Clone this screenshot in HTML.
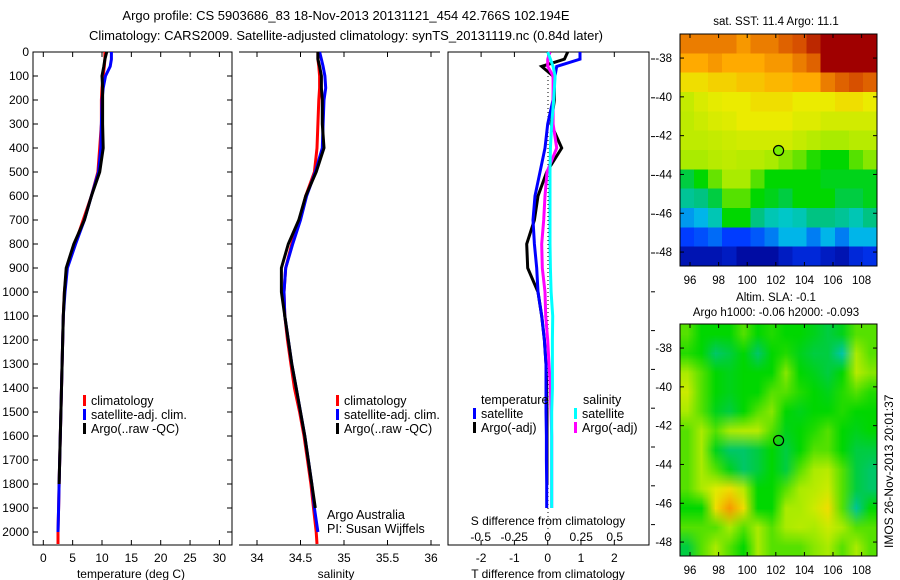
<!DOCTYPE html>
<html><head><meta charset="utf-8"><style>
body{margin:0;background:#fff;}
svg{display:block;font-family:"Liberation Sans",sans-serif;}
canvas{position:absolute;}
</style></head><body>
<div style="position:relative;width:900px;height:580px">
<canvas id="sst" width="14" height="12" style="left:680px;top:34px;width:197px;height:232px;image-rendering:pixelated"></canvas>
<canvas id="sla" width="14" height="12" style="left:680px;top:324px;width:197px;height:232px"></canvas>
<svg id="svg" width="900" height="580" style="position:absolute;left:0;top:0"></svg>
</div>
<script>
const depths=[0,30,60,100,150,200,300,400,500,600,700,800,900,1000,1100,1200,1300,1400,1500,1600,1700,1800,1900,2000,2050];
const tClim=[10.5,10.5,10.4,10.2,10.0,9.9,9.9,9.6,9.3,8.2,6.8,5.4,4.0,3.6,3.4,3.3,3.2,3.1,3.0,2.9,2.8,2.7,2.6,2.5,2.5];
const tSat=[11.6,11.6,11.4,10.6,10.2,10.0,9.9,9.8,9.4,8.2,7.0,5.5,4.1,3.7,3.4,3.3,3.2,3.1,3.0,2.9,2.8,2.7,2.6,2.5,null];
const tArgo=[10.8,10.5,10.3,10.0,10.1,10.1,10.1,10.2,9.6,8.2,7.0,5.2,3.9,3.6,3.4,3.3,3.2,3.1,3.0,2.9,2.8,2.7,null,null,null];
const sClim=[34.70,34.70,34.71,34.72,34.72,34.71,34.70,34.69,34.66,34.56,34.49,34.40,34.33,34.31,34.32,34.35,34.39,34.43,34.49,34.54,34.58,34.62,34.65,34.68,34.69];
const sSat=[34.72,34.74,34.76,34.78,34.79,34.77,34.76,34.75,34.67,34.57,34.50,34.41,34.33,34.31,34.32,34.36,34.40,34.45,34.50,34.55,34.59,34.63,34.66,34.70,null];
const sArgo=[34.70,34.70,34.72,34.74,34.74,34.75,34.75,34.77,34.68,34.56,34.48,34.36,34.28,34.28,34.32,34.36,34.40,34.45,34.50,34.55,34.59,34.63,34.67,null,null];
const dT_sat=[0.97,0.97,0.27,0.22,0.18,0.16,0.0,-0.08,-0.23,-0.38,-0.44,-0.40,-0.33,-0.29,-0.18,-0.1,-0.05,-0.05,-0.05,-0.04,-0.04,-0.03,-0.03,null,null];
const dT_argo=[0.6,0.5,-0.18,0.16,0.2,0.2,0.1,0.42,-0.03,-0.29,-0.4,-0.63,-0.6,-0.29,-0.18,-0.1,-0.05,-0.03,-0.02,-0.02,-0.02,-0.02,null,null,null];
const dS_argo=[0.017,0.0,0.0,0.04,0.04,0.04,0.04,0.067,-0.005,-0.02,-0.03,-0.045,-0.04,-0.02,-0.015,0.0,0.01,0.02,0.025,0.03,0.03,0.03,0.03,null,null];
const dS_sat=[0.0,0.02,0.04,0.055,0.05,0.045,0.03,0.02,0.017,0.017,0.017,0.017,0.02,0.025,0.037,0.035,0.035,0.035,0.03,0.03,0.03,0.03,0.03,null,null];
const tTicks=[0,5,10,15,20,25,30];
const sTicks=[34,34.5,35,35.5,36];
const dTTicks=[-2,-1,0,1,2];
const dSTicks=[-0.5,-0.25,0,0.25,0.5];
const depthTicks=[0,100,200,300,400,500,600,700,800,900,1000,1100,1200,1300,1400,1500,1600,1700,1800,1900,2000];
const latTicks=[-38,-40,-42,-44,-46,-48];
const lonTicks=[96,98,100,102,104,106,108];
const sstGrid=[
[.85,.85,.85,.85,.82,.85,.85,.88,.9,.95,1,1,1,1],
[.8,.8,.82,.8,.8,.8,.82,.82,.85,.88,1,1,1,1],
[.72,.72,.74,.74,.76,.76,.78,.78,.8,.8,.85,.88,.9,.88],
[.64,.67,.69,.7,.7,.72,.72,.72,.7,.7,.7,.72,.72,.7],
[.63,.65,.67,.68,.7,.7,.7,.7,.68,.68,.66,.66,.66,.66],
[.63,.63,.64,.65,.66,.66,.66,.66,.64,.62,.6,.6,.62,.62],
[.6,.6,.62,.63,.62,.62,.6,.58,.56,.52,.5,.5,.55,.58],
[.45,.5,.56,.6,.6,.55,.5,.5,.5,.5,.48,.48,.48,.48],
[.38,.4,.45,.55,.55,.5,.48,.45,.5,.5,.5,.45,.45,.48],
[.25,.28,.35,.5,.5,.4,.35,.33,.35,.4,.4,.38,.35,.4],
[.15,.17,.2,.15,.15,.18,.22,.28,.28,.22,.28,.22,.28,.28],
[.05,.05,.05,.07,.03,.03,.03,.07,.1,.1,.07,.05,.1,.12]];
const slaGrid=[
[.55,.5,.5,.5,.55,.5,.52,.5,.5,.48,.45,.48,.55,.55],
[.52,.5,.42,.45,.5,.42,.5,.52,.48,.45,.45,.36,.6,.55],
[.6,.55,.5,.48,.5,.5,.5,.58,.5,.48,.45,.5,.62,.58],
[.65,.55,.5,.48,.5,.5,.55,.55,.52,.5,.48,.52,.55,.52],
[.6,.55,.48,.45,.5,.55,.58,.5,.48,.5,.5,.52,.5,.5],
[.55,.6,.55,.6,.62,.62,.55,.48,.5,.52,.55,.5,.48,.5],
[.55,.6,.48,.42,.42,.45,.5,.45,.5,.55,.55,.5,.45,.45],
[.55,.6,.55,.48,.42,.45,.5,.45,.55,.6,.62,.55,.45,.42],
[.55,.6,.68,.72,.62,.5,.5,.55,.6,.62,.65,.55,.45,.42],
[.5,.5,.72,.82,.72,.5,.5,.6,.6,.65,.72,.55,.38,.5],
[.55,.55,.55,.6,.55,.6,.55,.6,.62,.6,.65,.6,.55,.55],
[.45,.55,.6,.55,.5,.6,.55,.55,.55,.58,.6,.55,.6,.55]];
const argoLon=102.194, argoLat=-42.766;

const NS='http://www.w3.org/2000/svg', svg=document.getElementById('svg');
function el(t,a,txt){const e=document.createElementNS(NS,t);for(const k in a)e.setAttribute(k,a[k]);if(txt!==undefined)e.textContent=txt;svg.appendChild(e);return e;}
const CM=[[0,[0,0,140]],[0.15,[0,60,255]],[0.3,[0,200,230]],[0.4,[0,195,130]],[0.5,[0,215,0]],[0.6,[170,235,0]],[0.7,[235,235,0]],[0.8,[255,170,0]],[0.9,[215,80,0]],[1,[160,0,0]]];
function cmap(v){v=Math.max(0,Math.min(1,v));for(let i=1;i<CM.length;i++){if(v<=CM[i][0]){const a=CM[i-1],b=CM[i],f=(v-a[0])/(b[0]-a[0]);return a[1].map((c,k)=>Math.round(c+(b[1][k]-c)*f));}}return CM[CM.length-1][1];}
function paint(id,grid){const c=document.getElementById(id).getContext('2d');grid.forEach((row,j)=>row.forEach((v,i)=>{const [r,g,b]=cmap(v);c.fillStyle=`rgb(${r},${g},${b})`;c.fillRect(i,j,1,1);}));}
paint('sst',sstGrid);paint('sla',slaGrid);

const yD=d=>52+d*0.24;
const xT=t=>43.3+t*5.87, xS=s=>257+(s-34)*87, xdT=t=>547.7+t*33.3, xdS=s=>547.7+s*134;
function txt(x,y,s,o){const a=Object.assign({x:x,y:y,'font-size':12,fill:'#000'},o||{});return el('text',a,s);}
function line(x1,y1,x2,y2,w,c){return el('line',{x1,y1,x2,y2,stroke:c||'#000','stroke-width':w||1});}
function prof(vals,xf,col,name,w){let pts=[];vals.forEach((v,i)=>{if(v!==null)pts.push(xf(v).toFixed(1)+','+yD(depths[i]).toFixed(1));});
 const p=el('polyline',{points:pts.join(' '),fill:'none',stroke:col,'stroke-width':w||3});
 
 }

el('text',{x:346,y:20,'font-size':13,'text-anchor':'middle',},'Argo profile: CS 5903686_83 18-Nov-2013 20131121_454 42.766S 102.194E');
el('text',{x:346,y:40,'font-size':13,'text-anchor':'middle',},'Climatology: CARS2009. Satellite-adjusted climatology: synTS_20131119.nc (0.84d later)');

const B=545;
el('rect',{x:33,y:52,width:199,height:B-52,fill:'none',stroke:'#000',});
line(239,52,440,52);line(239,B,440,B);
el('rect',{x:448,y:52,width:201,height:B-52,fill:'none',stroke:'#000',});
depthTicks.forEach(d=>{const y=yD(d);line(33,y,38,y);line(227,y,232,y);txt(29,y+4,String(d),{'text-anchor':'end'});});
for(let y=59;y<=545;y+=38.8)line(651,y,655,y);
tTicks.forEach(t=>{const x=xT(t);line(x,52,x,57);line(x,B,x,B-5);txt(x,562,String(t),{'text-anchor':'middle'});});
sTicks.forEach(s=>{const x=xS(s);line(x,52,x,57);line(x,B,x,B-5);txt(x,562,String(s),{'text-anchor':'middle'});});
dTTicks.forEach(t=>{const x=xdT(t);line(x,52,x,57);line(x,B,x,B-5);txt(x,562,String(t),{'text-anchor':'middle'});});
dSTicks.forEach(s=>{txt(xdS(s),541,String(s),{'text-anchor':'middle'});});
txt(131,578,'temperature (deg C)',{'text-anchor':'middle',});
txt(336,578,'salinity',{'text-anchor':'middle',});
txt(548,578,'T difference from climatology',{'text-anchor':'middle',});
txt(548,525,'S difference from climatology',{'text-anchor':'middle',});
el('line',{x1:548,y1:60,x2:548,y2:540,stroke:'#000','stroke-width':1,'stroke-dasharray':'1,3'});

prof(tClim,xT,'#f00','temp-climatology');prof(tSat,xT,'#00f','temp-satellite');prof(tArgo,xT,'#000','temp-argo');
prof(sClim,xS,'#f00','sal-climatology');prof(sSat,xS,'#00f','sal-satellite');prof(sArgo,xS,'#000','sal-argo');
prof(dT_argo,xdT,'#000','tdiff-argo');prof(dT_sat,xdT,'#00f','tdiff-satellite');prof(dS_argo,xdS,'#f0f','sdiff-argo');prof(dS_sat,xdS,'#0ff','sdiff-satellite');

function legend(x,y,items){items.forEach((it,i)=>{const yy=y+i*14;el('rect',{x:x,y:yy-10,width:3,height:11,fill:it[1]});txt(x+8,yy,it[0],{'font-size':12.5});});}
legend(83,405,[['climatology','#f00'],['satellite-adj. clim.','#00f'],['Argo(..raw -QC)','#000']]);
legend(336,405,[['climatology','#f00'],['satellite-adj. clim.','#00f'],['Argo(..raw -QC)','#000']]);
txt(481,404,'temperature',{'font-size':12.5});legend(473,418,[['satellite','#00f'],['Argo(-adj)','#000']]);
txt(583,404,'salinity',{'font-size':12.5});legend(574,418,[['satellite','#0ff'],['Argo(-adj)','#f0f']]);
txt(327,519,'Argo Australia',{'font-size':12.5});txt(327,533,'PI: Susan Wijffels',{'font-size':12.5});

const lonX=l=>680+(l-95.3)*14.3, latY=(la,o)=>o+(-36.76-la)*19.4;
[34,324].forEach((o,k)=>{
 el('rect',{x:680,y:o,width:197,height:232,fill:'none',stroke:'#000'});
 latTicks.forEach(la=>{const y=latY(la,o);line(680,y,684,y);line(873,y,877,y);txt(672,y+4,String(la),{'text-anchor':'end','font-size':11.5});});
 lonTicks.forEach(l=>{const x=lonX(l);line(x,o,x,o+4);line(x,o+232,x,o+228);txt(x,o+250,String(l),{'text-anchor':'middle','font-size':11.5});});
 el('circle',{cx:lonX(argoLon),cy:latY(argoLat,o),r:5,fill:k==0?'#7e0':'none',stroke:'#000','stroke-width':1.2,});
});
txt(776,25,'sat. SST: 11.4  Argo: 11.1',{'text-anchor':'middle','font-size':11.5,});
txt(776,301,'Altim. SLA: -0.1',{'text-anchor':'middle','font-size':11.5,});
txt(776,316,'Argo h1000: -0.06 h2000: -0.093',{'text-anchor':'middle','font-size':11.5,});
txt(0,0,'IMOS 26-Nov-2013 20:01:37',{transform:'translate(893,548) rotate(-90)',});
</script>
</body></html>
